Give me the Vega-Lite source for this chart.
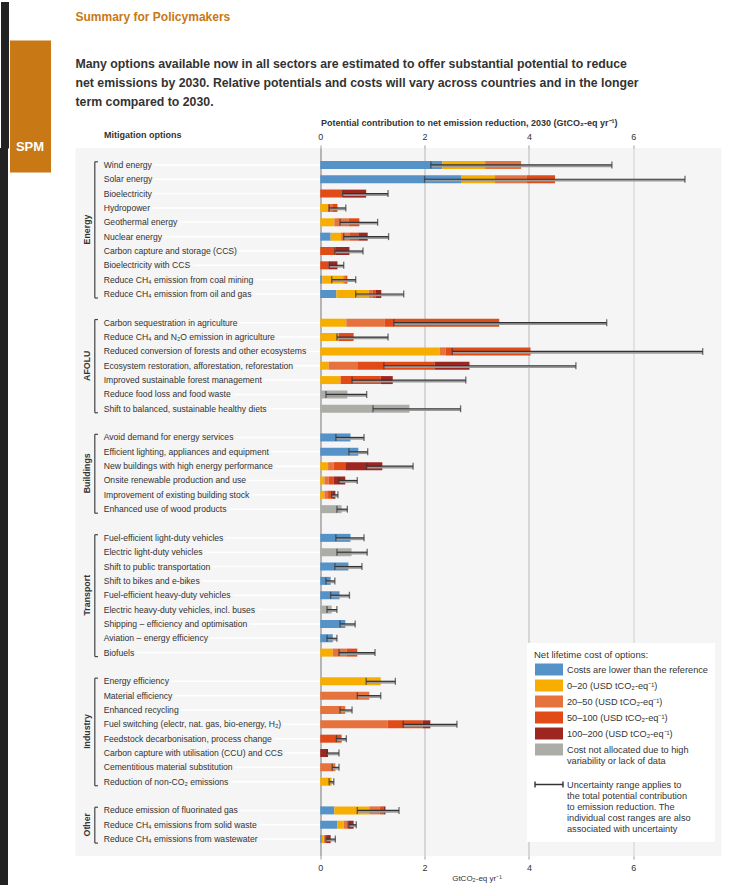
{
  "$schema": "https://vega.github.io/schema/vega-lite/v6.json",
  "padding": 0,
  "background": "white",
  "config": {"font": "Liberation Sans, Arial, sans-serif", "view": {"stroke": null}},
  "datasets": {
    "options": [
      {"id": "wind", "label": "Wind energy"},
      {"id": "solar", "label": "Solar energy"},
      {"id": "bioel", "label": "Bioelectricity"},
      {"id": "hydro", "label": "Hydropower"},
      {"id": "geo", "label": "Geothermal energy"},
      {"id": "nuc", "label": "Nuclear energy"},
      {"id": "ccs", "label": "Carbon capture and storage (CCS)"},
      {"id": "beccs", "label": "Bioelectricity with CCS"},
      {"id": "coal", "label": "Reduce CH₄ emission from coal mining"},
      {"id": "oilgas", "label": "Reduce CH₄ emission from oil and gas"},
      {"id": "cseq", "label": "Carbon sequestration in agriculture"},
      {"id": "agch4", "label": "Reduce CH₄ and N₂O emission in agriculture"},
      {"id": "forest", "label": "Reduced conversion of forests and other ecosystems"},
      {"id": "eco", "label": "Ecosystem restoration, afforestation, reforestation"},
      {"id": "forman", "label": "Improved sustainable forest management"},
      {"id": "food", "label": "Reduce food loss and food waste"},
      {"id": "diet", "label": "Shift to balanced, sustainable healthy diets"},
      {"id": "avoid", "label": "Avoid demand for energy services"},
      {"id": "light", "label": "Efficient lighting, appliances and equipment"},
      {"id": "newb", "label": "New buildings with high energy performance"},
      {"id": "onsite", "label": "Onsite renewable production and use"},
      {"id": "exist", "label": "Improvement of existing building stock"},
      {"id": "wood", "label": "Enhanced use of wood products"},
      {"id": "ldv", "label": "Fuel-efficient light-duty vehicles"},
      {"id": "eldv", "label": "Electric light-duty vehicles"},
      {"id": "pub", "label": "Shift to public transportation"},
      {"id": "bike", "label": "Shift to bikes and e-bikes"},
      {"id": "hdv", "label": "Fuel-efficient heavy-duty vehicles"},
      {"id": "ehdv", "label": "Electric heavy-duty vehicles, incl. buses"},
      {"id": "ship", "label": "Shipping – efficiency and optimisation"},
      {"id": "avia", "label": "Aviation – energy efficiency"},
      {"id": "biof", "label": "Biofuels"},
      {"id": "eneff", "label": "Energy efficiency"},
      {"id": "mateff", "label": "Material efficiency"},
      {"id": "recyc", "label": "Enhanced recycling"},
      {"id": "fuelsw", "label": "Fuel switching (electr, nat. gas, bio-energy, H₂)"},
      {"id": "feed", "label": "Feedstock decarbonisation, process change"},
      {"id": "ccu", "label": "Carbon capture with utilisation (CCU) and CCS"},
      {"id": "cem", "label": "Cementitious material substitution"},
      {"id": "nonco2", "label": "Reduction of non-CO₂ emissions"},
      {"id": "fgas", "label": "Reduce emission of fluorinated gas"},
      {"id": "waste", "label": "Reduce CH₄ emissions from solid waste"},
      {"id": "water", "label": "Reduce CH₄ emissions from wastewater"}
    ],
    "sectors": [
      {"sector": "Energy", "first": "wind", "last": "oilgas", "mid": "geo"},
      {"sector": "AFOLU", "first": "cseq", "last": "diet", "mid": "eco"},
      {"sector": "Buildings", "first": "avoid", "last": "wood", "mid": "newb"},
      {"sector": "Transport", "first": "ldv", "last": "biof", "mid": "hdv"},
      {"sector": "Industry", "first": "eneff", "last": "nonco2", "mid": "fuelsw"},
      {"sector": "Other", "first": "fgas", "last": "water", "mid": "waste"}
    ],
    "segments": [
      {"id": "wind", "cost": "lower", "x0": 0, "x1": 2.34},
      {"id": "wind", "cost": "0-20", "x0": 2.34, "x1": 3.16},
      {"id": "wind", "cost": "20-50", "x0": 3.16, "x1": 3.85},
      {"id": "solar", "cost": "lower", "x0": 0, "x1": 2.71},
      {"id": "solar", "cost": "0-20", "x0": 2.71, "x1": 3.35},
      {"id": "solar", "cost": "20-50", "x0": 3.35, "x1": 3.96},
      {"id": "solar", "cost": "50-100", "x0": 3.96, "x1": 4.5},
      {"id": "bioel", "cost": "50-100", "x0": 0, "x1": 0.43},
      {"id": "bioel", "cost": "100-200", "x0": 0.43, "x1": 0.88},
      {"id": "hydro", "cost": "0-20", "x0": 0, "x1": 0.15},
      {"id": "hydro", "cost": "20-50", "x0": 0.15, "x1": 0.23},
      {"id": "hydro", "cost": "50-100", "x0": 0.23, "x1": 0.33},
      {"id": "geo", "cost": "0-20", "x0": 0, "x1": 0.27},
      {"id": "geo", "cost": "20-50", "x0": 0.27, "x1": 0.54},
      {"id": "geo", "cost": "50-100", "x0": 0.54, "x1": 0.75},
      {"id": "nuc", "cost": "lower", "x0": 0, "x1": 0.2},
      {"id": "nuc", "cost": "0-20", "x0": 0.2, "x1": 0.4},
      {"id": "nuc", "cost": "20-50", "x0": 0.4, "x1": 0.57},
      {"id": "nuc", "cost": "50-100", "x0": 0.57, "x1": 0.73},
      {"id": "nuc", "cost": "100-200", "x0": 0.73, "x1": 0.91},
      {"id": "ccs", "cost": "50-100", "x0": 0, "x1": 0.29},
      {"id": "ccs", "cost": "100-200", "x0": 0.29, "x1": 0.56},
      {"id": "beccs", "cost": "50-100", "x0": 0, "x1": 0.16},
      {"id": "beccs", "cost": "100-200", "x0": 0.16, "x1": 0.33},
      {"id": "coal", "cost": "lower", "x0": 0, "x1": 0.04},
      {"id": "coal", "cost": "0-20", "x0": 0.04, "x1": 0.44},
      {"id": "coal", "cost": "20-50", "x0": 0.44, "x1": 0.48},
      {"id": "coal", "cost": "50-100", "x0": 0.48, "x1": 0.52},
      {"id": "oilgas", "cost": "lower", "x0": 0, "x1": 0.31},
      {"id": "oilgas", "cost": "0-20", "x0": 0.31, "x1": 0.93},
      {"id": "oilgas", "cost": "20-50", "x0": 0.93, "x1": 1.0},
      {"id": "oilgas", "cost": "50-100", "x0": 1.0, "x1": 1.06},
      {"id": "oilgas", "cost": "100-200", "x0": 1.06, "x1": 1.17},
      {"id": "cseq", "cost": "0-20", "x0": 0, "x1": 0.5},
      {"id": "cseq", "cost": "20-50", "x0": 0.5, "x1": 1.23},
      {"id": "cseq", "cost": "50-100", "x0": 1.23, "x1": 3.43},
      {"id": "agch4", "cost": "0-20", "x0": 0, "x1": 0.35},
      {"id": "agch4", "cost": "50-100", "x0": 0.35, "x1": 0.64},
      {"id": "forest", "cost": "0-20", "x0": 0, "x1": 2.29},
      {"id": "forest", "cost": "20-50", "x0": 2.29, "x1": 2.4},
      {"id": "forest", "cost": "50-100", "x0": 2.4, "x1": 4.03},
      {"id": "eco", "cost": "0-20", "x0": 0, "x1": 0.16},
      {"id": "eco", "cost": "20-50", "x0": 0.16, "x1": 0.71},
      {"id": "eco", "cost": "50-100", "x0": 0.71, "x1": 2.19},
      {"id": "eco", "cost": "100-200", "x0": 2.19, "x1": 2.86},
      {"id": "forman", "cost": "0-20", "x0": 0, "x1": 0.39},
      {"id": "forman", "cost": "50-100", "x0": 0.39, "x1": 1.16},
      {"id": "forman", "cost": "100-200", "x0": 1.16, "x1": 1.39},
      {"id": "food", "cost": "na", "x0": 0, "x1": 0.52},
      {"id": "diet", "cost": "na", "x0": 0, "x1": 1.71},
      {"id": "avoid", "cost": "lower", "x0": 0, "x1": 0.58},
      {"id": "light", "cost": "lower", "x0": 0, "x1": 0.73},
      {"id": "newb", "cost": "0-20", "x0": 0, "x1": 0.15},
      {"id": "newb", "cost": "20-50", "x0": 0.15, "x1": 0.26},
      {"id": "newb", "cost": "50-100", "x0": 0.26, "x1": 0.48},
      {"id": "newb", "cost": "100-200", "x0": 0.48, "x1": 1.19},
      {"id": "onsite", "cost": "0-20", "x0": 0, "x1": 0.08},
      {"id": "onsite", "cost": "20-50", "x0": 0.08, "x1": 0.16},
      {"id": "onsite", "cost": "50-100", "x0": 0.16, "x1": 0.26},
      {"id": "onsite", "cost": "100-200", "x0": 0.26, "x1": 0.48},
      {"id": "exist", "cost": "0-20", "x0": 0, "x1": 0.08},
      {"id": "exist", "cost": "20-50", "x0": 0.08, "x1": 0.15},
      {"id": "exist", "cost": "50-100", "x0": 0.15, "x1": 0.23},
      {"id": "exist", "cost": "100-200", "x0": 0.23, "x1": 0.29},
      {"id": "wood", "cost": "na", "x0": 0, "x1": 0.41},
      {"id": "ldv", "cost": "lower", "x0": 0, "x1": 0.58},
      {"id": "eldv", "cost": "na", "x0": 0, "x1": 0.6},
      {"id": "pub", "cost": "lower", "x0": 0, "x1": 0.54},
      {"id": "bike", "cost": "lower", "x0": 0, "x1": 0.2},
      {"id": "hdv", "cost": "lower", "x0": 0, "x1": 0.37},
      {"id": "ehdv", "cost": "na", "x0": 0, "x1": 0.22},
      {"id": "ship", "cost": "lower", "x0": 0, "x1": 0.48},
      {"id": "avia", "cost": "lower", "x0": 0, "x1": 0.24},
      {"id": "biof", "cost": "0-20", "x0": 0, "x1": 0.24},
      {"id": "biof", "cost": "20-50", "x0": 0.24, "x1": 0.51},
      {"id": "biof", "cost": "50-100", "x0": 0.51, "x1": 0.71},
      {"id": "eneff", "cost": "0-20", "x0": 0, "x1": 1.16},
      {"id": "mateff", "cost": "20-50", "x0": 0, "x1": 0.94},
      {"id": "recyc", "cost": "20-50", "x0": 0, "x1": 0.48},
      {"id": "fuelsw", "cost": "20-50", "x0": 0, "x1": 1.29},
      {"id": "fuelsw", "cost": "50-100", "x0": 1.29, "x1": 1.96},
      {"id": "fuelsw", "cost": "100-200", "x0": 1.96, "x1": 2.11},
      {"id": "feed", "cost": "50-100", "x0": 0, "x1": 0.41},
      {"id": "ccu", "cost": "100-200", "x0": 0, "x1": 0.15},
      {"id": "cem", "cost": "20-50", "x0": 0, "x1": 0.29},
      {"id": "nonco2", "cost": "0-20", "x0": 0, "x1": 0.22},
      {"id": "fgas", "cost": "lower", "x0": 0, "x1": 0.27},
      {"id": "fgas", "cost": "0-20", "x0": 0.27, "x1": 0.94},
      {"id": "fgas", "cost": "20-50", "x0": 0.94, "x1": 1.14},
      {"id": "fgas", "cost": "50-100", "x0": 1.14, "x1": 1.21},
      {"id": "fgas", "cost": "100-200", "x0": 1.21, "x1": 1.25},
      {"id": "waste", "cost": "lower", "x0": 0, "x1": 0.33},
      {"id": "waste", "cost": "0-20", "x0": 0.33, "x1": 0.45},
      {"id": "waste", "cost": "20-50", "x0": 0.45, "x1": 0.5},
      {"id": "waste", "cost": "50-100", "x0": 0.5, "x1": 0.54},
      {"id": "waste", "cost": "100-200", "x0": 0.54, "x1": 0.64},
      {"id": "water", "cost": "lower", "x0": 0, "x1": 0.03},
      {"id": "water", "cost": "0-20", "x0": 0.03, "x1": 0.07},
      {"id": "water", "cost": "20-50", "x0": 0.07, "x1": 0.1},
      {"id": "water", "cost": "50-100", "x0": 0.1, "x1": 0.13},
      {"id": "water", "cost": "100-200", "x0": 0.13, "x1": 0.2}
    ],
    "uncertainty": [
      {"id": "wind", "low": 2.12, "high": 5.59},
      {"id": "solar", "low": 2.0, "high": 6.99},
      {"id": "bioel", "low": 0.43, "high": 1.3},
      {"id": "hydro", "low": 0.17, "high": 0.49},
      {"id": "geo", "low": 0.38, "high": 1.1},
      {"id": "nuc", "low": 0.45, "high": 1.31},
      {"id": "ccs", "low": 0.28, "high": 0.82},
      {"id": "beccs", "low": 0.17, "high": 0.45},
      {"id": "coal", "low": 0.22, "high": 0.68},
      {"id": "oilgas", "low": 0.68, "high": 1.6},
      {"id": "cseq", "low": 1.41, "high": 5.49},
      {"id": "agch4", "low": 0.32, "high": 1.3},
      {"id": "forest", "low": 2.53, "high": 7.33},
      {"id": "eco", "low": 1.22, "high": 4.9},
      {"id": "forman", "low": 0.61, "high": 2.79},
      {"id": "food", "low": 0.11, "high": 0.89},
      {"id": "diet", "low": 1.01, "high": 2.69},
      {"id": "avoid", "low": 0.3, "high": 0.84},
      {"id": "light", "low": 0.55, "high": 0.91},
      {"id": "newb", "low": 0.89, "high": 1.78},
      {"id": "onsite", "low": 0.36, "high": 0.71},
      {"id": "exist", "low": 0.22, "high": 0.34},
      {"id": "wood", "low": 0.32, "high": 0.52},
      {"id": "ldv", "low": 0.3, "high": 0.84},
      {"id": "eldv", "low": 0.32, "high": 0.9},
      {"id": "pub", "low": 0.28, "high": 0.8},
      {"id": "bike", "low": 0.11, "high": 0.28},
      {"id": "hdv", "low": 0.2, "high": 0.56},
      {"id": "ehdv", "low": 0.13, "high": 0.32},
      {"id": "ship", "low": 0.38, "high": 0.67},
      {"id": "avia", "low": 0.13, "high": 0.32},
      {"id": "biof", "low": 0.36, "high": 1.05},
      {"id": "eneff", "low": 0.88, "high": 1.44},
      {"id": "mateff", "low": 0.71, "high": 1.16},
      {"id": "recyc", "low": 0.38, "high": 0.61},
      {"id": "fuelsw", "low": 1.59, "high": 2.62},
      {"id": "feed", "low": 0.31, "high": 0.5},
      {"id": "ccu", "low": 0.13, "high": 0.36},
      {"id": "cem", "low": 0.23, "high": 0.36},
      {"id": "nonco2", "low": 0.17, "high": 0.26},
      {"id": "fgas", "low": 0.71, "high": 1.51},
      {"id": "waste", "low": 0.55, "high": 0.69},
      {"id": "water", "low": 0.11, "high": 0.29}
    ]
  },
  "hconcat": [
    {
      "hconcat": [
        {
          "width": 8, "height": 737,
          "view": {"fill": "#222222", "stroke": null},
          "data": {"values": [{}]},
          "mark": {"type": "text", "text": ""},
          "encoding": {
            "x": {"datum": 0.5, "type": "quantitative", "scale": {"domain": [0, 1]},
              "axis": {"orient": "top", "values": [0.1875, 0.5, 0.8125], "tickSize": 146.5, "tickWidth": 3, "tickColor": "#222222", "tickCap": "butt", "labels": false, "domain": false, "grid": false, "title": null}}
          }
        },
        {
          "width": 41, "height": 24,
          "data": {"values": [{}]},
          "mark": {"type": "text", "text": ""},
          "encoding": {
            "x": {"datum": 0.5, "type": "quantitative", "scale": {"domain": [0, 1]},
              "axis": {"orient": "top", "offset": -24, "values": [0.5], "tickSize": 132, "tickWidth": 41, "tickColor": "#c87814", "tickCap": "butt",
                "domain": false, "grid": false, "title": null, "labelExpr": "'SPM'", "labelColor": "white", "labelFontSize": 13, "labelFontWeight": "bold",
                "labelPadding": -106, "labelBaseline": "middle", "labelFlush": false, "labelBound": false, "labelOverlap": false}}
          }
        }
      ],
      "spacing": 0
    },
    {
      "width": 646,
      "height": 708,
      "view": {"fill": "#f5f5f5", "stroke": null},
      "title": {
        "text": ["", "Summary for Policymakers"],
        "lineHeight": 8,
        "subtitle": [
          "Many options available now in all sectors are estimated to offer substantial potential to reduce",
          "net emissions by 2030. Relative potentials and costs will vary across countries and in the longer",
          "term compared to 2030."
        ],
        "anchor": "start",
        "frame": "group",
        "fontSize": 12,
        "fontWeight": "bold",
        "color": "#c87814",
        "subtitleFontSize": 12.3,
        "subtitleFontWeight": "bold",
        "subtitleColor": "#333333",
        "subtitleLineHeight": 19,
        "subtitlePadding": 34,
        "offset": 9
      },
      "resolve": {"axis": {"x": "independent"}},
      "layer": [
        {
          "data": {"name": "options"},
          "mark": {"type": "rule", "color": "white", "strokeWidth": 1.5},
          "encoding": {
            "x": {"datum": -4.15, "type": "quantitative", "scale": {"domain": [-4.69, 7.69], "nice": false, "zero": false}, "axis": null},
            "x2": {"datum": 0},
            "y": {
              "field": "id", "type": "nominal",
              "scale": {
                "domain": ["wind","solar","bioel","hydro","geo","nuc","ccs","beccs","coal","oilgas","g1","cseq","agch4","forest","eco","forman","food","diet","g2","avoid","light","newb","onsite","exist","wood","g3","ldv","eldv","pub","bike","hdv","ehdv","ship","avia","biof","g4","eneff","mateff","recyc","fuelsw","feed","ccu","cem","nonco2","g5","fgas","waste","water"],
                "paddingInner": 0, "paddingOuter": 0.68
              },
              "axis": {
                "labels": false, "ticks": false, "domain": false, "grid": false,
                "title": "Mitigation options", "titleAngle": 0, "titleX": 28, "titleY": -14,
                "titleAlign": "left", "titleBaseline": "middle", "titleFontSize": 9,
                "titleFontWeight": "bold", "titleColor": "#333333"
              }
            }
          }
        },
        {
          "data": {"name": "options"},
          "mark": {"type": "text", "align": "left", "baseline": "middle", "fontSize": 8.6, "color": "#f5f5f5", "stroke": "#f5f5f5", "strokeWidth": 5},
          "encoding": {
            "x": {"datum": -4.15, "type": "quantitative", "axis": null},
            "y": {"field": "id", "type": "nominal"},
            "text": {"field": "label"}
          }
        },
        {
          "data": {"name": "options"},
          "mark": {"type": "text", "align": "left", "baseline": "middle", "fontSize": 8.6, "color": "#333333"},
          "encoding": {
            "x": {"datum": -4.15, "type": "quantitative", "axis": null},
            "y": {"field": "id", "type": "nominal"},
            "text": {"field": "label"}
          }
        },
        {
          "data": {"name": "sectors"},
          "mark": {"type": "rule", "color": "#444444", "strokeWidth": 1.2},
          "encoding": {
            "x": {"datum": -4.32, "type": "quantitative", "axis": null},
            "y": {"field": "first", "type": "nominal", "bandPosition": 0.28},
            "y2": {"field": "last", "bandPosition": 0.78}
          }
        },
        {
          "data": {"name": "sectors"},
          "mark": {"type": "rule", "color": "#444444", "strokeWidth": 1.2},
          "encoding": {
            "x": {"datum": -4.32, "type": "quantitative", "axis": null},
            "x2": {"datum": -4.26},
            "y": {"field": "first", "type": "nominal", "bandPosition": 0.28}
          }
        },
        {
          "data": {"name": "sectors"},
          "mark": {"type": "rule", "color": "#444444", "strokeWidth": 1.2},
          "encoding": {
            "x": {"datum": -4.32, "type": "quantitative", "axis": null},
            "x2": {"datum": -4.26},
            "y": {"field": "last", "type": "nominal", "bandPosition": 0.78}
          }
        },
        {
          "data": {"name": "sectors"},
          "transform": [{"filter": {"field": "sector", "oneOf": ["AFOLU", "Transport", "Other"]}}],
          "mark": {"type": "text", "angle": 270, "align": "center", "baseline": "middle", "fontSize": 8.8, "fontWeight": "bold", "color": "#333333"},
          "encoding": {
            "x": {"datum": -4.47, "type": "quantitative", "axis": null},
            "y": {"field": "mid", "type": "nominal", "bandPosition": 0.5},
            "text": {"field": "sector"}
          }
        },
        {
          "data": {"name": "sectors"},
          "transform": [{"filter": {"field": "sector", "oneOf": ["Energy", "Buildings", "Industry"]}}],
          "mark": {"type": "text", "angle": 270, "align": "center", "baseline": "middle", "fontSize": 8.8, "fontWeight": "bold", "color": "#333333"},
          "encoding": {
            "x": {"datum": -4.47, "type": "quantitative", "axis": null},
            "y": {"field": "mid", "type": "nominal", "bandPosition": 1},
            "text": {"field": "sector"}
          }
        },
        {
          "data": {"name": "segments"},
          "mark": {"type": "bar", "height": 8},
          "encoding": {
            "x": {
              "field": "x0", "type": "quantitative",
              "axis": {
                "orient": "top", "values": [0, 2, 4, 6], "grid": true,
                "gridColor": {"condition": [{"test": "datum.value === 0", "value": "#9a9a9a"}, {"test": "datum.value === 6", "value": "#dadada"}], "value": "#c9c9c9"},
                "gridWidth": 1.4, "domain": false, "tickSize": 3, "tickColor": "#999999",
                "labelFontSize": 9, "labelColor": "#333333", "labelPadding": 4,
                "title": "Potential contribution to net emission reduction, 2030 (GtCO₂-eq yr⁻¹)",
                "titleFontSize": 9, "titleFontWeight": "bold", "titleColor": "#333333",
                "titleX": 245, "titleY": -26, "titleAlign": "left", "titleBaseline": "middle"
              }
            },
            "x2": {"field": "x1"},
            "y": {"field": "id", "type": "nominal"},
            "color": {
              "field": "cost", "type": "nominal",
              "scale": {
                "domain": ["lower", "0-20", "20-50", "50-100", "100-200", "na", "unc"],
                "range": ["#5592c8", "#f8ae00", "#e6723e", "#e04b18", "#9e2620", "#adada8", "#333333"]
              },
              "legend": {
                "orient": "none", "legendX": 527, "legendY": 495, "direction": "vertical",
                "fillColor": "white", "padding": 7,
                "title": "Net lifetime cost of options:", "titleFontSize": 9.5, "titleFontWeight": "normal",
                "titleColor": "#333333", "titlePadding": 3,
                "labelFontSize": 9.2, "labelColor": "#333333", "labelLimit": 300, "labelOffset": 11,
                "symbolSize": 144, "symbolOffset": 8, "rowPadding": -4.1,
                "labelExpr": "datum.value == 'lower' ? 'Costs are lower than the reference' : datum.value == '0-20' ? '0–20 (USD tCO₂-eq⁻¹)' : datum.value == '20-50' ? '20–50 (USD tCO₂-eq⁻¹)' : datum.value == '50-100' ? '50–100 (USD tCO₂-eq⁻¹)' : datum.value == '100-200' ? '100–200 (USD tCO₂-eq⁻¹)' : datum.value == 'na' ? ['Cost not allocated due to high', 'variability or lack of data', ''] : ['Uncertainty range applies to', 'the total potential contribution', 'to emission reduction. The', 'individual cost ranges are also', 'associated with uncertainty']",
                "encode": {
                  "symbols": {
                    "update": {
                      "shape": {"signal": "datum.value == 'unc' ? 'M-2.33,0H2.33M-2.33,-0.5V0.5M2.33,-0.5V0.5' : 'M-2.33,-1H2.33V1H-2.33Z'"},
                      "stroke": {"signal": "datum.value == 'unc' ? '#333333' : 'transparent'"},
                      "strokeWidth": {"value": 1.4}
                    }
                  }
                }
              }
            }
          }
        },
        {
          "data": {"name": "uncertainty"},
          "mark": {"type": "rule", "color": "#9a9a9a", "strokeWidth": 2, "yOffset": 1.3},
          "encoding": {
            "x": {
              "field": "low", "type": "quantitative",
              "axis": {
                "orient": "bottom", "values": [0, 2, 4, 6], "grid": false, "domain": false,
                "tickSize": 3, "tickColor": "#999999", "labelFontSize": 9, "labelColor": "#333333", "labelPadding": 4,
                "title": "GtCO₂-eq yr⁻¹", "titleFontSize": 8, "titleFontWeight": "normal", "titleColor": "#333333",
                "titleX": 401, "titleY": 22, "titleAlign": "center", "titleBaseline": "middle"
              }
            },
            "x2": {"field": "high"},
            "y": {"field": "id", "type": "nominal"}
          }
        },
        {
          "data": {"name": "uncertainty"},
          "mark": {"type": "rule", "color": "#333333", "strokeWidth": 1.2},
          "encoding": {
            "x": {"field": "low", "type": "quantitative", "axis": null},
            "x2": {"field": "high"},
            "y": {"field": "id", "type": "nominal"}
          }
        },
        {
          "data": {"name": "uncertainty"},
          "transform": [{"fold": ["low", "high"], "as": ["end", "value"]}],
          "mark": {"type": "tick", "color": "#333333", "size": 7, "thickness": 1.3},
          "encoding": {
            "x": {"field": "value", "type": "quantitative", "axis": null},
            "y": {"field": "id", "type": "nominal"}
          }
        }
      ]
    }
  ],
  "spacing": 24.5
}
